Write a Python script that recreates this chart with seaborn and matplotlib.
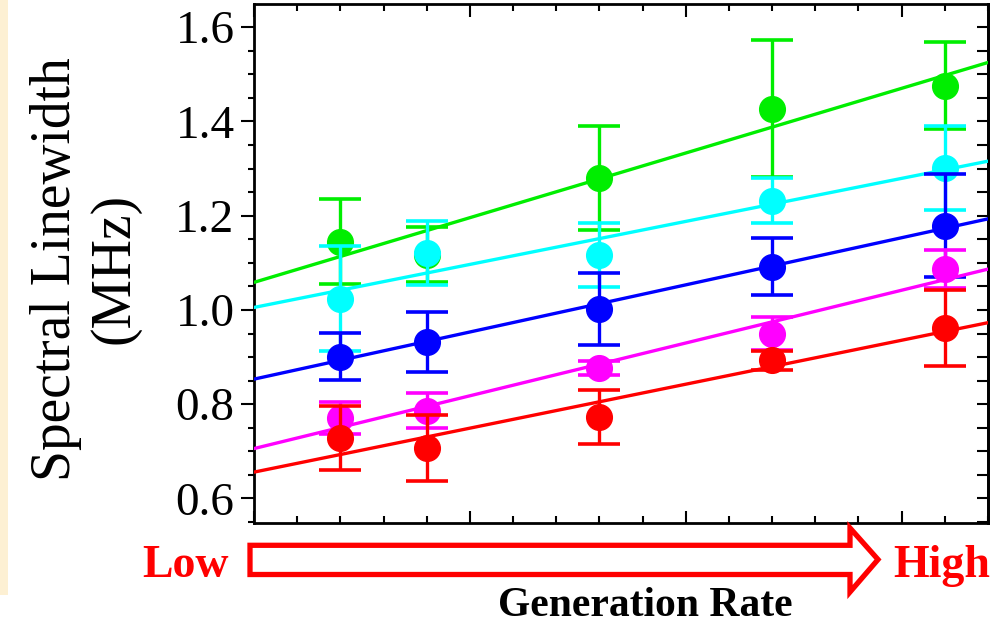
import numpy as np
import pandas as pd
import matplotlib
matplotlib.use("Agg")
import matplotlib.pyplot as plt
from matplotlib.ticker import MultipleLocator
from matplotlib.patches import Polygon, Rectangle
import seaborn as sns

# ---------------- data ----------------
x_rate = [2, 4, 8, 12, 16]

green_y = [1.145, 1.117, 1.280, 1.427, 1.476]
green_err = [0.091, 0.058, 0.111, 0.145, 0.093]
cyan_y = [1.024, 1.120, 1.116, 1.232, 1.301]
cyan_err = [0.112, 0.068, 0.068, 0.048, 0.090]
blue_y = [0.901, 0.932, 1.002, 1.092, 1.179]
blue_err = [0.050, 0.063, 0.077, 0.060, 0.110]
magenta_y = [0.771, 0.786, 0.876, 0.950, 1.087]
magenta_err = [0.034, 0.037, 0.015, 0.036, 0.040]
red_y = [0.728, 0.707, 0.773, 0.893, 0.962]
red_err = [0.068, 0.070, 0.057, 0.020, 0.081]

series_order = ["green", "cyan", "blue", "magenta", "red"]
series_colors = {"green": "#00ee00", "cyan": "#00ffff", "blue": "#0000ff",
                 "magenta": "#ff00ff", "red": "#ff0000"}
series_y = {"green": green_y, "cyan": cyan_y, "blue": blue_y,
            "magenta": magenta_y, "red": red_y}
series_err = {"green": green_err, "cyan": cyan_err, "blue": blue_err,
              "magenta": magenta_err, "red": red_err}

y_ticks = [0.6, 0.8, 1.0, 1.2, 1.4, 1.6]
y_tick_labels = ["0.6", "0.8", "1.0", "1.2", "1.4", "1.6"]

rows = []
for s in series_order:
    for xv, yv, ev in zip(x_rate, series_y[s], series_err[s]):
        rows.append({"series": s, "rate": xv, "width": yv, "err": ev})
df = pd.DataFrame(rows)

# ---------------- style ----------------
sns.set_style("ticks")
plt.rcParams["font.family"] = ["Liberation Serif", "DejaVu Serif"]
plt.rcParams["text.color"] = "black"
plt.rcParams["axes.labelcolor"] = "black"
plt.rcParams["xtick.color"] = "black"
plt.rcParams["ytick.color"] = "black"
plt.rcParams["axes.edgecolor"] = "black"

W, H = 997, 623
fig = plt.figure(figsize=(W / 100, H / 100), dpi=100)
fig.patch.set_facecolor("white")
ax_l, ax_r, ax_t, ax_b = 254, 988, 4, 523
ax = fig.add_axes([ax_l / W, 1 - ax_b / H, (ax_r - ax_l) / W, (ax_b - ax_t) / H])
ax.set_facecolor("white")

# beige strip at the far left
fig.patches.append(Rectangle((0, 1 - 595 / H), 8 / W, 595 / H,
                             transform=fig.transFigure, facecolor="#fdf0d3",
                             edgecolor="none", zorder=0))

ax.set_xlim(0, 17)
ax.set_ylim(0.548, 1.649)

for i, s in enumerate(series_order):
    c = series_colors[s]
    sub = df[df["series"] == s]
    ax.errorbar(sub["rate"], sub["width"], yerr=sub["err"], fmt="o", color=c,
                ms=18.5, elinewidth=2.4, capsize=15, capthick=2.6,
                zorder=3 + 2 * i)
    sns.regplot(data=sub, x="rate", y="width", ax=ax, scatter=False, ci=None,
                truncate=False, color=c,
                line_kws=dict(lw=2.4, zorder=4 + 2 * i))

ax.set_xlim(0, 17)
ax.set_ylim(0.548, 1.649)

# ticks
ax.xaxis.set_major_locator(MultipleLocator(5))
ax.xaxis.set_minor_locator(MultipleLocator(1))
ax.tick_params(axis="x", which="both", direction="in", top=True, bottom=True,
               labelbottom=False, width=1.5, color="black")
ax.tick_params(axis="x", which="major", length=9)
ax.tick_params(axis="x", which="minor", length=4.8)

ax.set_yticks(y_ticks)
ax.set_yticklabels(y_tick_labels)
ax.yaxis.set_minor_locator(MultipleLocator(0.05))
ax.tick_params(axis="y", which="both", direction="out", left=True, right=False,
               width=1.5, color="black", labelsize=34, pad=4.5,
               labelcolor="black")
ax.tick_params(axis="y", which="major", length=9.5)
ax.tick_params(axis="y", which="minor", length=4.2)

sec = ax.secondary_yaxis("right")
sec.yaxis.set_major_locator(MultipleLocator(0.2))
sec.yaxis.set_minor_locator(MultipleLocator(0.05))
sec.tick_params(which="both", direction="in", labelright=False, width=1.5,
                length=8, color="black")
sec.spines["right"].set_linewidth(2)
sec.spines["right"].set_color("black")

for sp in ax.spines.values():
    sp.set_linewidth(2)
    sp.set_color("black")
    sp.set_visible(True)

# labels
ax.set_ylabel("Spectral Linewidth\n(MHz)", fontsize=40, linespacing=1.15,
              color="black")
ax.yaxis.set_label_coords(-0.155, 0.49)
ax.set_xlabel("Generation Rate", fontsize=30, fontweight="bold", color="black")
ax.xaxis.set_label_coords(0.533, -0.123)

fig.text(185 / W, 1 - 577 / H, "Low", ha="center", va="baseline",
         color="#ff0000", fontsize=33, fontweight="bold")
fig.text(941.5 / W, 1 - 577 / H, "High", ha="center", va="baseline",
         color="#ff0000", fontsize=33, fontweight="bold")

# hollow block arrow
arrow_px = [(250, 545.3), (850, 545.3), (850, 528), (878, 559.5),
            (850, 592), (850, 574.5), (250, 574.5)]
arrow_pts = [(px / W, 1 - py / H) for px, py in arrow_px]
fig.patches.append(Polygon(arrow_pts, closed=True, transform=fig.transFigure,
                           facecolor="white", edgecolor="#ff0000", lw=3.8,
                           joinstyle="miter", zorder=1))

fig.savefig("out.png", dpi=100)
